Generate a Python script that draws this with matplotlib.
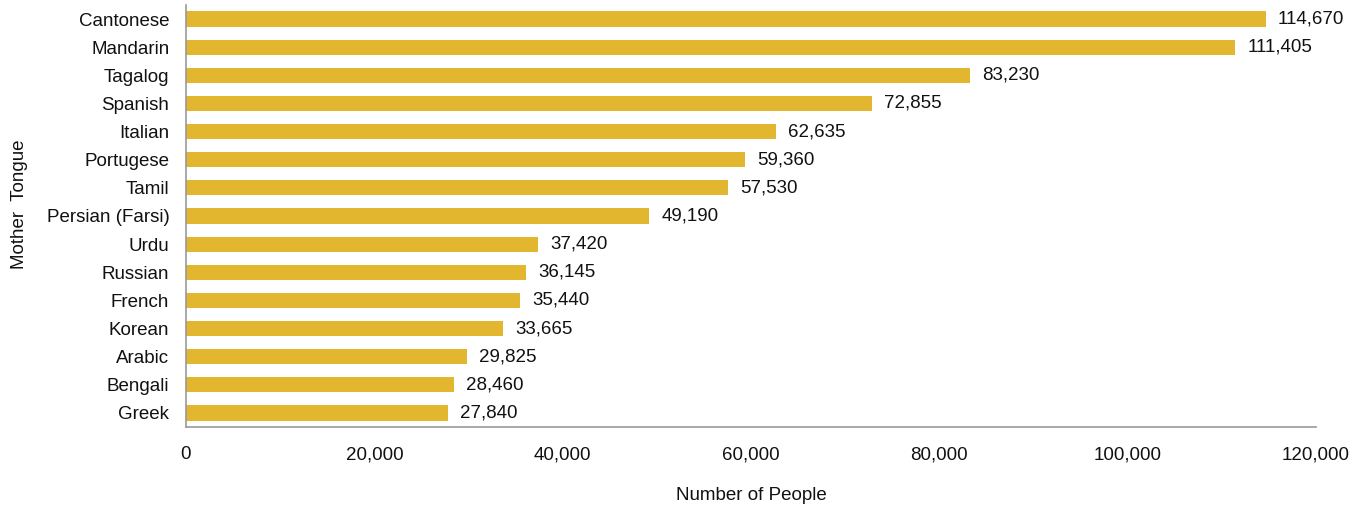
import matplotlib
matplotlib.use("Agg")
import matplotlib.pyplot as plt

languages = ["Cantonese", "Mandarin", "Tagalog", "Spanish", "Italian", "Portugese", "Tamil",
             "Persian (Farsi)", "Urdu", "Russian", "French", "Korean", "Arabic", "Bengali", "Greek"]
speakers = [114670, 111405, 83230, 72855, 62635, 59360, 57530, 49190, 37420, 36145,
            35440, 33665, 29825, 28460, 27840]
xticks = [0, 20000, 40000, 60000, 80000, 100000, 120000]

plt.rcParams["font.family"] = ["Liberation Sans", "DejaVu Sans"]
plt.rcParams["font.size"] = 13.5

fig = plt.figure(figsize=(13.65, 5.07), dpi=100)
ax = fig.add_axes([186 / 1365, 80 / 507, 1130 / 1365, 422 / 507])

ypos = list(range(len(languages)))
ax.barh(ypos, speakers, height=0.54, color="#E2B62F")
for y, v in zip(ypos, speakers):
    ax.text(v + 1300, y, f"{v:,}", va="center", ha="left", color="#111111")

ax.set_ylim(len(languages) - 0.5, -0.5)
ax.set_xlim(0, 120000)
ax.set_yticks(ypos)
ax.set_yticklabels(languages)
ax.set_xticks(xticks)
ax.set_xticklabels([f"{t:,}" for t in xticks])
ax.tick_params(axis="y", length=0, pad=12, colors="#111111")
ax.tick_params(axis="x", length=0, pad=14, colors="#111111")

for s in ["top", "right"]:
    ax.spines[s].set_visible(False)
for s in ["left", "bottom"]:
    ax.spines[s].set_color("#999999")
    ax.spines[s].set_linewidth(1.2)

ax.set_xlabel("Number of People", color="#111111")
ax.set_ylabel("Mother  Tongue", color="#111111")
ax.xaxis.set_label_coords(0.5, (427 - 495) / 422)
ax.yaxis.set_label_coords((19 - 186) / 1130, (427 - 204) / 422)
ax.xaxis.label.set_va("center")
ax.yaxis.label.set_va("center")

fig.savefig("out.png", dpi=100)
